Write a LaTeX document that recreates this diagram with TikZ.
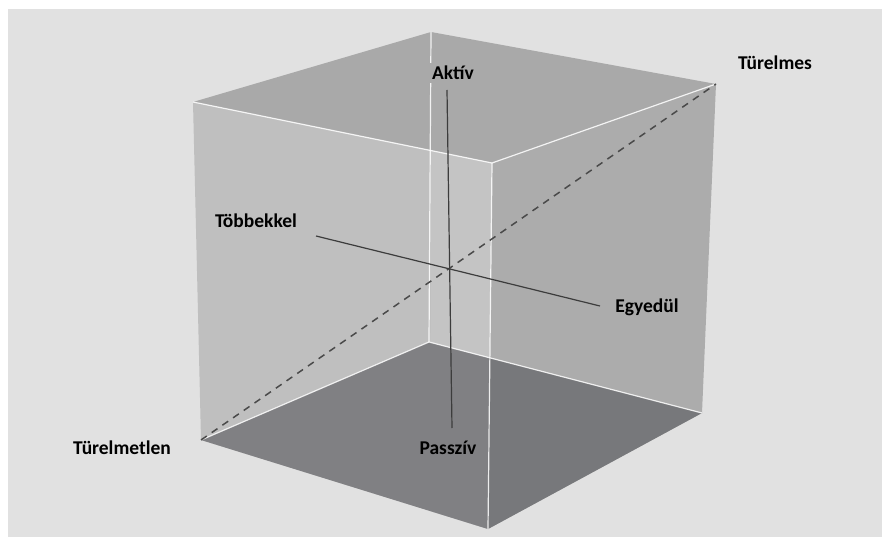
\documentclass[tikz,border=0pt]{standalone}
\usepackage{fontspec}
\setmainfont{Carlito}
\definecolor{pagebg}{HTML}{E1E1E1}
\definecolor{topface}{HTML}{A9A9A9}
\definecolor{leftface}{HTML}{BFBFBF}
\definecolor{leftinner}{HTML}{C4C4C4}
\definecolor{rightface}{HTML}{ACACAC}
\definecolor{floorleft}{HTML}{808083}
\definecolor{floorright}{HTML}{77787B}
\definecolor{axisline}{HTML}{3C3C3C}
\definecolor{diagline}{HTML}{4A4A4A}
\tikzset{
  edge/.style={white, opacity=0.85, line width=1.2pt},
  axis/.style={axisline, line width=1.2pt},
  diagonal/.style={diagline, line width=1.5pt, dash pattern=on 7pt off 6pt},
  lbl/.style={font=\fontsize{19.5}{22}\selectfont\bfseries, text=black, inner sep=0pt}
}
\begin{document}
\begin{tikzpicture}[x=1pt, y=-1pt]
\useasboundingbox (0,0) rectangle (891,545);
\fill[white] (0,0) rectangle (891,545);
\fill[pagebg] (8,9) rectangle (882,537);

% cube corners
\coordinate (TB) at (431,32);
\coordinate (TL) at (193,102);
\coordinate (TR) at (716,84);
\coordinate (TF) at (492,163);
\coordinate (BL) at (201,440);
\coordinate (BB) at (429,342);
\coordinate (BR) at (702,413);
\coordinate (BF) at (488,529);
\coordinate (FX) at (490,358);

% faces
\fill[topface] (TL) -- (TB) -- (TR) -- (TF) -- cycle;
\fill[leftface] (TL) -- (TF) -- (BF) -- (BL) -- cycle;
\fill[leftinner] (431,150.6) -- (TF) -- (BF) -- (430,511) -- cycle;
\fill[rightface] (TF) -- (TR) -- (BR) -- (BF) -- cycle;
\fill[floorleft] (BL) -- (BB) -- (FX) -- (BF) -- cycle;
\fill[floorright] (FX) -- (BR) -- (BF) -- cycle;

% light edges
\draw[edge] (TB) -- (BB);
\draw[edge] (TL) -- (TF) -- (TR);
\draw[edge] (TF) -- (BF);
\draw[edge] (BL) -- (BB) -- (BR);

% diagonal from impatient to patient corner
\draw[diagonal] (BL) -- (TR);

% axis end points
\coordinate (vtop) at (447,90);
\coordinate (vbot) at (452,428);
\coordinate (hleft) at (316,236);
\coordinate (hright) at (600,306);
\draw[axis] (vtop) -- (vbot);
\draw[axis] (hleft) -- (hright);

% labels
\node[lbl, fill=topface, inner xsep=5pt, inner ysep=3pt] (aktiv) at (453,73) {Aktív};
\node[lbl] (passziv) at (448,448) {Passzív};
\node[lbl] (tobbekkel) at (256,221) {Többekkel};
\node[lbl] (egyedul) at (647,307) {Egyedül};
\node[lbl] (turelmes) at (775,63) {Türelmes};
\node[lbl] (turelmetlen) at (122,448) {Türelmetlen};
\end{tikzpicture}
\end{document}
